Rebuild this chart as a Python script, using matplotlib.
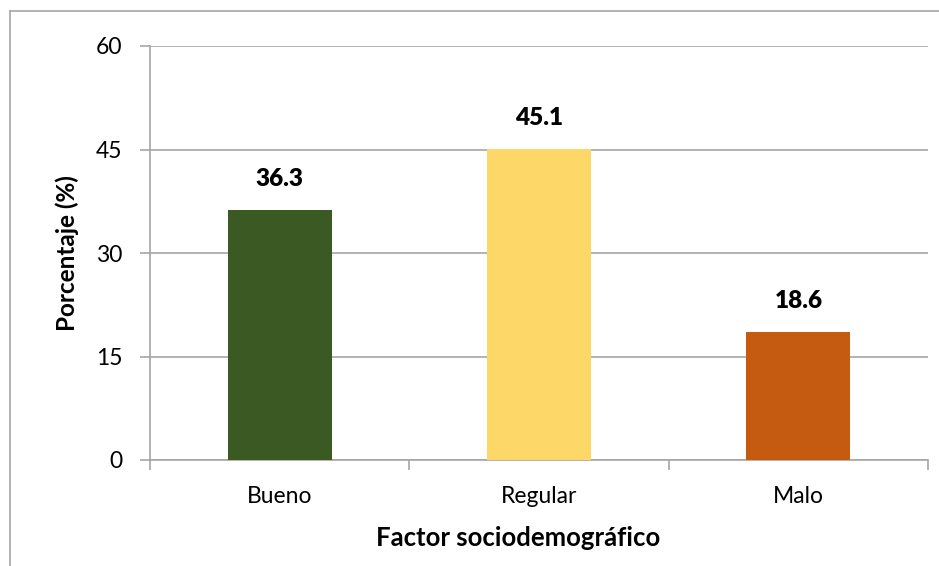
import matplotlib.pyplot as plt
from matplotlib.lines import Line2D

# datos
categorias = ['Bueno', 'Regular', 'Malo']
porcentajes = [36.3, 45.1, 18.6]
colores = ['#3B5A23', '#FDD868', '#C55A11']

plt.rcParams['font.family'] = ['Lato', 'DejaVu Sans']

fig = plt.figure(figsize=(9.39, 5.66), dpi=100)
ax = fig.add_axes([150/939, 1-460/566, (928-150)/939, (460-46)/566])

x = range(len(categorias))
ax.bar(x, porcentajes, width=0.4, color=colores, zorder=3)

for xi, v in zip(x, porcentajes):
    ax.annotate(f'{v:.1f}', (xi, v), xytext=(0, 14), textcoords='offset points',
                ha='center', va='bottom', fontsize=17.5, fontweight='heavy')

ax.set_xlim(-0.5, 2.5)
ax.set_ylim(0, 60)
ax.set_yticks([0, 15, 30, 45, 60])
ax.yaxis.grid(True, color='#A6A6A6', linewidth=1.2, zorder=0)

# ticks del eje x entre categorías, etiquetas centradas
ax.set_xticks([-0.5, 0.5, 1.5, 2.5])
ax.set_xticklabels([])
ax.set_xticks(list(x), minor=True)
ax.set_xticklabels(categorias, minor=True)
ax.tick_params(axis='x', which='major', length=7, width=1.2, color='#A6A6A6', direction='out')
ax.tick_params(axis='x', which='minor', length=0, pad=19, labelsize=16.5)
ax.tick_params(axis='y', length=7, width=1.2, color='#A6A6A6', pad=13, labelsize=16.5)

for s in ['top', 'right']:
    ax.spines[s].set_visible(False)
for s in ['left', 'bottom']:
    ax.spines[s].set_color('#A6A6A6')
    ax.spines[s].set_linewidth(1.2)

ax.set_ylabel('Porcentaje (%)', fontsize=17.5, fontweight='bold', labelpad=12)
ax.set_xlabel('Factor sociodemográfico', fontsize=18.5, fontweight='bold')
ax.xaxis.set_label_coords(0.473, -0.159)

# marco del gráfico
fig.add_artist(Line2D([10/939, 10/939], [0, 1-11/566], color='#A6A6A6', lw=1.2))
fig.add_artist(Line2D([10/939, 1], [1-11/566, 1-11/566], color='#A6A6A6', lw=1.2))

fig.savefig('out.png', dpi=100)
